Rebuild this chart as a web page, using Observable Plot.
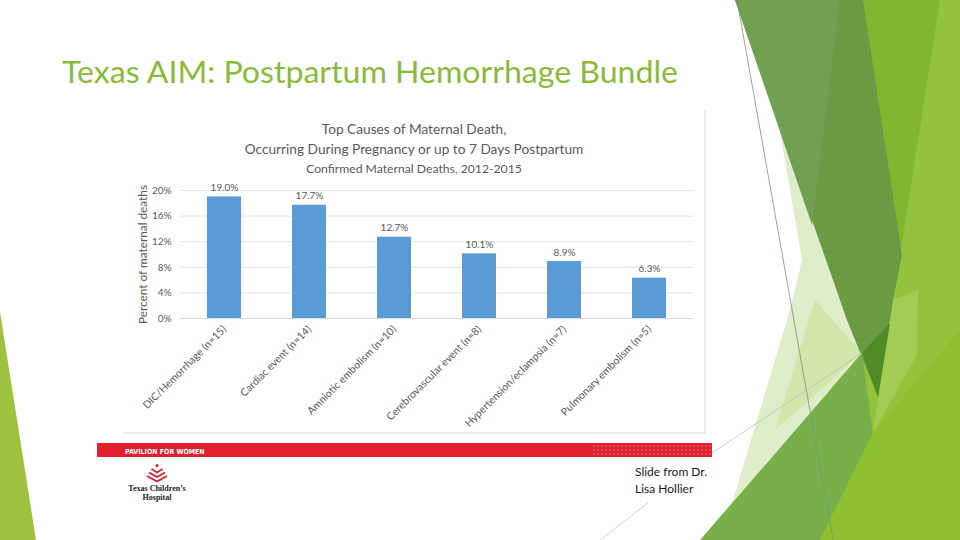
<!DOCTYPE html>
<html>
<head>
<meta charset="utf-8">
<script src="https://cdn.jsdelivr.net/npm/d3@7"></script>
<script src="https://cdn.jsdelivr.net/npm/@observablehq/plot@0.6"></script>
<style>
  html, body { margin: 0; padding: 0; background: #fff; }
  #slide { position: relative; width: 960px; height: 540px; overflow: hidden; background: #fff; font-family: Lato, "Open Sans", sans-serif; }
  #bg { position: absolute; left: 0; top: 0; }
  #chart { position: absolute; left: 118px; top: 108px; }
</style>
</head>
<body>
<div id="slide">
<svg id="bg" width="960" height="540" xmlns="http://www.w3.org/2000/svg">
  <defs>
    <pattern id="dots" width="4" height="4" patternUnits="userSpaceOnUse">
      <circle cx="2" cy="2" r="0.8" fill="#ffffff" fill-opacity="0.45"/>
    </pattern>
  </defs>
  <!-- left green wedge -->
  <polygon points="0,312 36,540 0,540" fill="#9cc23e"/>
  <!-- right facet decorations -->
  <polygon points="862,0 960,0 960,540 820,540" fill="#93c33b"/>
  <polygon points="862,0 940,0 900,255" fill="#84b52f"/>
  <polygon points="893,300 918,290 917,355 873,433" fill="#a3cc55"/>
  <polygon points="778,120 802,260 790,310 733,500 705,533 862,353 847,320" fill="#e0edca"/>
  <polygon points="815,300 862,353 775,430" fill="#d3e6ab"/>
  <polygon points="735,0 863,0 902,255 893,300 878,397 847,320" fill="#6a9a44"/>
  <polygon points="735,0 840,0 812,225" fill="#71a052"/>
  <polygon points="700,540 862,353 873,433 820,540" fill="#77b04a"/>
  <polygon points="862,353 890,323 878,397" fill="#4f8b27"/>
  <polygon points="873,433 960,330 960,540 820,540" fill="#8dbf2f"/>
  <line x1="737" y1="0" x2="833" y2="540" stroke="#7f8f78" stroke-width="0.8"/>
  <line x1="712" y1="453" x2="862" y2="353" stroke="#b8c8b0" stroke-width="0.8"/>
  <line x1="600" y1="540" x2="648" y2="503" stroke="#c8c8c8" stroke-width="0.8"/>
  <!-- chart frame -->
  <line x1="705" y1="110" x2="705" y2="433" stroke="#d9d9d9" stroke-width="1"/>
  <line x1="123" y1="433" x2="705" y2="433" stroke="#d9d9d9" stroke-width="1"/>
  <!-- slide title -->
  <text x="62" y="83" font-family="Lato, 'Open Sans', sans-serif" font-size="30" fill="#8bba3a" textLength="616" lengthAdjust="spacingAndGlyphs">Texas AIM: Postpartum Hemorrhage Bundle</text>
  <!-- chart titles -->
  <g font-family="Lato, 'Open Sans', sans-serif" fill="#595959" text-anchor="middle">
    <text x="414" y="134" font-size="13.7">Top Causes of Maternal Death,</text>
    <text x="414" y="154" font-size="13.7">Occurring During Pregnancy or up to 7 Days Postpartum</text>
    <text x="414" y="173" font-size="12.2">Confirmed Maternal Deaths, 2012-2015</text>
  </g>
  <!-- banner -->
  <rect x="97" y="443" width="615" height="14" fill="#e21f2c"/>
  <rect x="592" y="443" width="120" height="14" fill="url(#dots)"/>
  <text x="125" y="453.5" font-family="'DejaVu Sans Condensed', 'Liberation Sans', sans-serif" font-weight="bold" font-size="7" fill="#ffffff">PAVILION FOR WOMEN</text>
  <!-- logo -->
  <g fill="none" stroke="#d4202e" stroke-width="1.8">
    <circle cx="157" cy="465.5" r="1.6" fill="#d4202e" stroke="none"/>
    <path d="M151.5,469 L157,472.5 L162.5,469"/>
    <path d="M149,472.5 L157,477 L165,472.5"/>
    <path d="M147,476 L157,481.5 L167,476"/>
  </g>
  <g font-family="'Liberation Serif', serif" font-weight="bold" fill="#222" text-anchor="middle">
    <text x="157" y="491" font-size="8">Texas Children’s</text>
    <text x="157" y="499.5" font-size="8">Hospital</text>
  </g>
  <g font-family="Lato, 'Open Sans', sans-serif" font-size="12" fill="#1a1a1a">
    <text x="635" y="476">Slide from Dr.</text>
    <text x="635" y="493">Lisa Hollier</text>
  </g>
</svg>
<div id="chart"></div>
</div>
<script>
const causes = [
  "DIC/Hemorrhage (n=15)",
  "Cardiac event (n=14)",
  "Amniotic embolism (n=10)",
  "Cerebrovascular event (n=8)",
  "Hypertension/eclampsia (n=7)",
  "Pulmonary embolism (n=5)"
];
const percents = [19.0, 17.7, 12.7, 10.1, 8.9, 6.3];
const yTicks = [0, 4, 8, 12, 16, 20];
const yLabel = "Percent of maternal deaths";

const data = causes.map((c, i) => ({cause: c, pct: percents[i]}));

const chart = Plot.plot({
  width: 587,
  height: 325,
  marginLeft: 62,
  marginRight: 12,
  marginTop: 82,
  marginBottom: 115,
  style: {fontFamily: "Lato, 'Open Sans', sans-serif", color: "#595959", background: "transparent"},
  x: {domain: causes, paddingInner: 0.6, paddingOuter: 0.3, label: null},
  y: {domain: [0, 20], label: null},
  marks: [
    Plot.gridY(yTicks.filter(d => d > 0), {stroke: "#e3e3e3", strokeOpacity: 1}),
    Plot.ruleY([0], {stroke: "#d9d9d9"}),
    Plot.barY(data, {x: "cause", y: "pct", fill: "#5b9bd5"}),
    Plot.text(data, {x: "cause", y: "pct", text: d => d.pct.toFixed(1) + "%", dy: -9, fontSize: 10, fill: "#595959"}),
    Plot.axisY({ticks: yTicks, tickFormat: d => d + "%", tickSize: 0, tickPadding: 9, fontSize: 10, label: null}),
    Plot.axisY({ticks: [], tickSize: 0, label: yLabel, labelAnchor: "center", labelOffset: 42, labelArrow: "none", fontSize: 11.8}),
    Plot.axisX({tickRotate: -45, tickSize: 0, tickPadding: 9, fontSize: 10.5, label: null})
  ]
});
document.getElementById("chart").appendChild(chart);
</script>
</body>
</html>
